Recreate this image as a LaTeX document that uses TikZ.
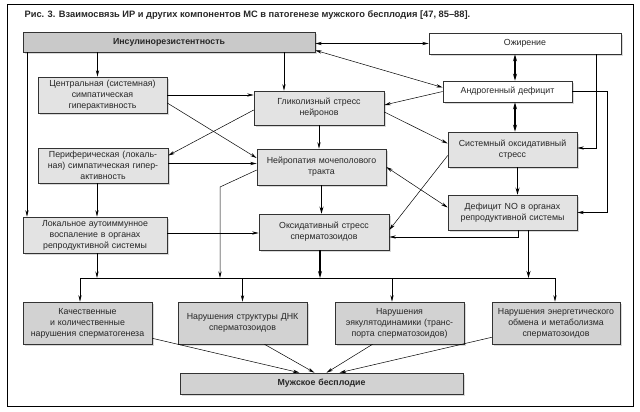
\documentclass[tikz,border=0pt]{standalone}
\usepackage{fontspec}
\setmainfont{Liberation Sans}
\usetikzlibrary{arrows.meta, shadows}

\begin{document}
\begin{tikzpicture}[->,>={Stealth[length=6.5pt,width=3.2pt]},x=1pt,y=-1pt,line width=0.5pt,
  font=\fontsize{8.8}{11}\selectfont]
  \tikzstyle{every node}=[text=black!85]
  \tikzstyle{box}=[draw=black!80, line width=0.6pt, fill=gray!22, align=center, inner sep=1pt,
    drop shadow={opacity=0.3, shadow xshift=2pt, shadow yshift=-2pt}]
  \tikzstyle{midbox}=[box, fill=gray!35]
  \tikzstyle{darkbox}=[box, fill=gray!42]
  \tikzstyle{whitebox}=[box, fill=white]
  \tikzstyle{heavy}=[line width=1.1pt, >={Stealth[length=7pt,width=4pt]}]

  \useasboundingbox (0,0) rectangle (640,412);
  \draw[-, line width=1pt] (7,5) rectangle (633,406);

  \node[anchor=west, font=\fontsize{9.3}{11}\selectfont] (title) at (21,15) {\bfseries Рис. 3. Взаимосвязь ИР и других компонентов МС в патогенезе мужского бесплодия [47, 85–88].};

  % top row
  \node[darkbox, text width=290pt, minimum height=20pt] (ir) at (169,42) {\bfseries Инсулинорезистентность};
  \node[whitebox, text width=190pt, minimum height=21pt] (ob) at (525,43.5) {Ожирение};

  % middle
  \node[box, text width=127pt, minimum height=36pt] (cen) at (102.5,95) {Центральная (системная)\\симпатическая\\гиперактивность};
  \node[box, text width=128pt, minimum height=34pt] (gly) at (319,108) {Гликолизный стресс\\нейронов};
  \node[whitebox, text width=127pt, minimum height=21pt] (andr) at (507.5,91.5) {Андрогенный дефицит};
  \node[box, text width=128pt, minimum height=35pt] (per) at (103,165.5) {Периферическая (локаль-\\ная) симпатическая гипер-\\активность};
  \node[box, text width=127pt, minimum height=36pt] (neu) at (321.5,167) {Нейропатия мочеполового\\тракта};
  \node[box, text width=127pt, minimum height=35pt] (sys) at (512.5,149.5) {Системный оксидативный\\стресс};
  \node[box, text width=127pt, minimum height=35pt] (no) at (512.5,212.5) {Дефицит NO в органах\\репродуктивной системы};
  \node[box, text width=142pt, minimum height=36pt] (loc) at (95,235) {Локальное аутоиммунное\\воспаление в органах\\репродуктивной системы};
  \node[box, text width=128pt, minimum height=36pt] (oxs) at (324,232) {Оксидативный стресс\\сперматозоидов};

  % bottom row
  \node[midbox, text width=127pt, minimum height=42pt] (qual) at (87.5,323) {Качественные\\и количественные\\нарушения сперматогенеза};
  \node[midbox, text width=127pt, minimum height=42pt] (dna) at (242.5,323) {Нарушения структуры ДНК\\сперматозоидов};
  \node[midbox, text width=127pt, minimum height=42pt] (ejac) at (399.5,323) {Нарушения\\эякулятодинамики (транс-\\порта сперматозоидов)};
  \node[midbox, text width=126pt, minimum height=42pt] (energy) at (556,323) {Нарушения энергетического\\обмена и метаболизма\\сперматозоидов};
  \node[midbox, text width=281pt, minimum height=21pt] (infert) at (321.5,383.5) {\bfseries Мужское бесплодие};

  \coordinate (busL) at (80,278);
  \coordinate (busR) at (555,278);
  \coordinate (neubend) at (220,187);

  % from the top
  \draw[<->] (ir.east |- ob.west) -- (ob.west);
  \draw[<->] ([yshift=2pt]ir.south east) -- ([yshift=4pt]andr.west);
  \draw ([xshift=-5pt]cen.north |- ir.south) -- ([xshift=-5pt]cen.north);
  \draw ([xshift=-35pt]gly.north |- ir.south) -- ([xshift=-35pt]gly.north);
  \draw ([xshift=-68pt]loc.north |- ir.south) -- ([xshift=-68pt]loc.north);
  \draw[heavy,<->] ([xshift=-10pt]ob.south) -- ([xshift=7.5pt]andr.north);
  \draw[heavy,<->] ([xshift=7.5pt]andr.south) -- ([xshift=2.5pt]sys.north);
  \draw ([xshift=71pt]ob.south) |- ([yshift=1.5pt]sys.east);
  \draw (andr.east) -- ++(35,0) |- (no.east);
  \draw (andr.west) -- ([yshift=3pt]gly.east);

  % middle
  \draw (cen.east) -- (cen.east -| gly.west);
  \draw ([yshift=-8pt]cen.east) -- ([yshift=9pt]neu.west);
  \draw ([yshift=-2pt]gly.west) -- ([yshift=10pt]per.east);
  \draw (gly.south) -- (gly.south |- neu.north);
  \draw ([yshift=-4pt]gly.east) -- ([yshift=6pt]sys.west);
  \draw ([yshift=2pt]per.east) -- ([yshift=2pt]per.east -| neu.west);
  \draw ([xshift=-6pt]per.south) -- ([xshift=-6pt]per.south |- loc.north);
  \draw[heavy] (neu.south) -- (neu.south |- oxs.north);
  \draw[<->] (neu.east) -- ([yshift=5pt]no.west);
  \draw ([yshift=-3pt]neu.west) -- (neubend) -- (neubend |- busL);
  \draw ([yshift=-6pt]sys.west) -- ([yshift=2pt]oxs.east);
  \draw[heavy] ([xshift=5pt]sys.south) -- ([xshift=5pt]no.north);
  \draw ([xshift=6pt]no.south) |- ([yshift=-5pt]oxs.east);
  \draw ([yshift=2pt]loc.east) -- ([yshift=2pt]loc.east -| oxs.west);

  % into the bus
  \draw[heavy] ([xshift=16pt]no.south) -- ([xshift=16pt]no.south |- busL);
  \draw ([xshift=2pt]loc.south) -- ([xshift=2pt]loc.south |- busL);
  \draw[heavy] ([xshift=-4pt]oxs.south) -- ([xshift=-4pt]oxs.south |- busL);
  \draw[-] (busL) -- (busR);
  \draw (busL) -- (busL |- qual.north);
  \draw (dna.north |- busL) -- (dna.north);
  \draw ([xshift=-7.5pt]ejac.north |- busL) -- ([xshift=-7.5pt]ejac.north);
  \draw (busR) -- (busR |- energy.north);

  % to the bottom box
  \draw ([yshift=6pt]qual.south east) -- ([xshift=-22pt]infert.north);
  \draw ([xshift=22pt]dna.south) -- ([xshift=-7pt]infert.north);
  \draw ([xshift=-27pt]ejac.south) -- ([xshift=5pt]infert.north);
  \draw ([yshift=7pt]energy.south west) -- ([xshift=18pt]infert.north);

\end{tikzpicture}
\end{document}
